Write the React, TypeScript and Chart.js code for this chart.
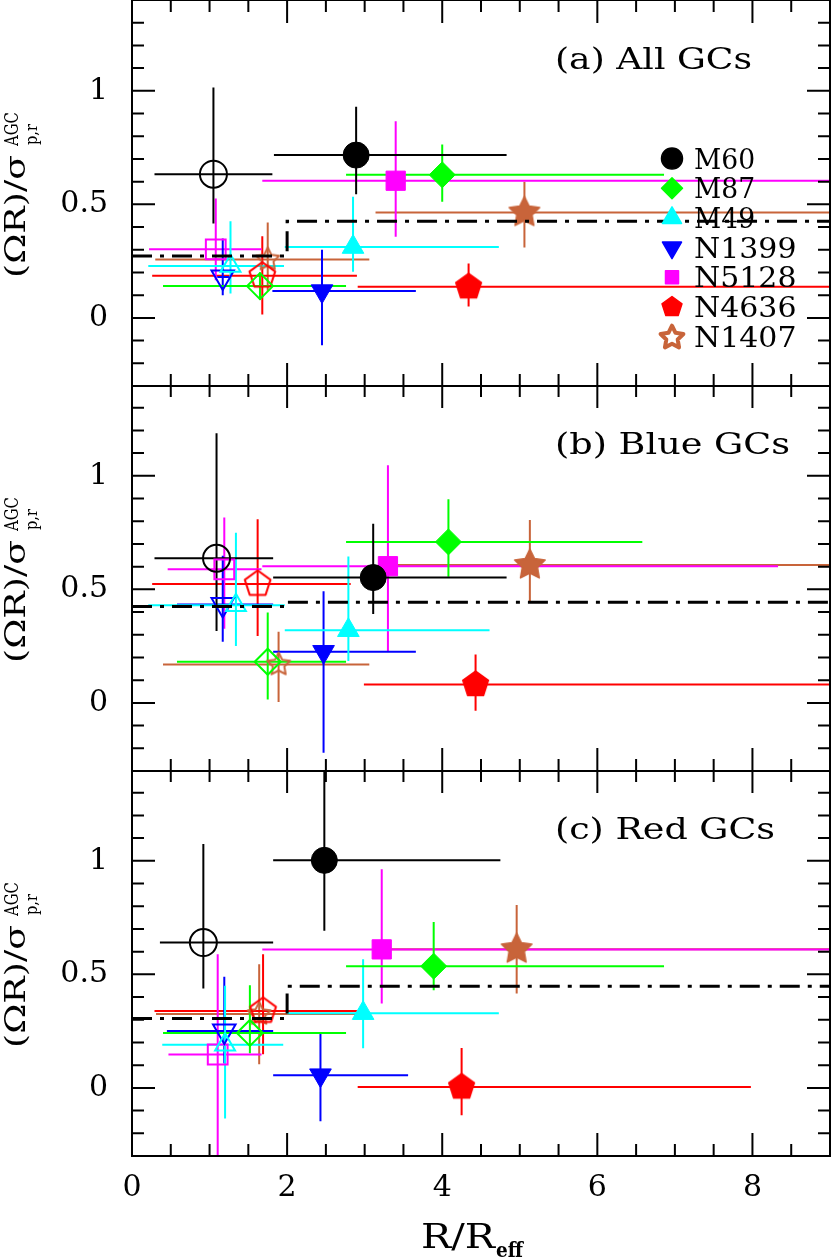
import React, { useEffect, useRef } from 'react';
import { Chart, registerables } from 'chart.js';

Chart.register(...registerables);

// ---------- categories / styles ----------
const galaxies = ['M60', 'M87', 'M49', 'N1399', 'N5128', 'N4636', 'N1407'];
const galaxyColors = ['#000000', '#00ff00', '#00ffff', '#0000ff', '#ff00ff', '#ff0000', '#c8643a'];
const markerKinds = ['circle', 'diamond', 'triangle', 'down', 'square', 'pentagon', 'star'];

const xTickLabels = ['0', '2', '4', '6', '8'];
const yTickLabels = ['0', '0.5', '1'];
const panelLabels = ['(a) All GCs', '(b) Blue GCs', '(c) Red GCs'];

// ---------- (a) All GCs ----------
// inner bin (open symbols)
const aInX = [1.05, 1.65, 1.27, 1.17, 1.08, 1.68, 1.75];
const aInY = [0.633, 0.14, 0.228, 0.18, 0.302, 0.186, 0.257];
const aInXLo = [0.29, 0.40, 0.21, 1.10, 0.22, 0.26, 0.30];
const aInXHi = [1.81, 2.76, 1.96, 1.25, 1.67, 2.90, 3.06];
const aInYLo = [0.416, 0.08, 0.107, 0.10, 0.166, 0.015, 0.12];
const aInYHi = [1.015, 0.20, 0.426, 0.35, 0.526, 0.36, 0.42];
// outer bin (filled symbols)
const aOutX = [2.89, 4.0, 2.85, 2.45, 3.40, 4.34, 5.06];
const aOutY = [0.717, 0.63, 0.312, 0.118, 0.604, 0.137, 0.464];
const aOutXLo = [1.83, 2.76, 1.97, 1.81, 1.68, 2.91, 3.14];
const aOutXHi = [4.83, 6.86, 4.73, 3.66, 9.6, 9.6, 9.6];
const aOutYLo = [0.545, 0.511, 0.203, -0.12, 0.357, 0.05, 0.31];
const aOutYHi = [0.93, 0.764, 0.533, 0.30, 0.866, 0.24, 0.60];
const aStepY = [0.272, 0.426, 0.426];

// ---------- (b) Blue GCs ----------
const bInX = [1.09, 1.75, 1.34, 1.17, 1.19, 1.62, 1.89];
const bInY = [0.637, 0.181, 0.43, 0.433, 0.588, 0.524, 0.169];
const bInXLo = [0.29, 0.58, 0.21, 0.58, 0.46, 0.26, 0.40];
const bInXHi = [1.82, 2.76, 1.97, 1.82, 1.67, 2.82, 3.06];
const bInYLo = [0.317, 0.015, 0.251, 0.269, 0.326, 0.295, 0.004];
const bInYHi = [1.187, 0.398, 0.749, 0.648, 0.817, 0.809, 0.313];
const bOutX = [3.11, 4.08, 2.79, 2.47, 3.30, 4.43, 5.13];
const bOutY = [0.552, 0.709, 0.32, 0.225, 0.602, 0.081, 0.607];
const bOutXLo = [1.82, 2.76, 1.97, 1.82, 1.68, 2.99, 3.2];
const bOutXHi = [4.83, 6.58, 4.61, 3.66, 8.33, 9.6, 9.6];
const bOutYLo = [0.392, 0.555, 0.184, -0.22, 0.225, -0.035, 0.445];
const bOutYHi = [0.789, 0.897, 0.645, 0.492, 1.047, 0.213, 0.805];
const bStepY = [0.425, 0.443, 0.443];

// ---------- (c) Red GCs ----------
const cInX = [0.92, 1.52, 1.20, 1.19, 1.105, 1.69, 1.64];
const cInY = [0.64, 0.242, 0.19, 0.25, 0.147, 0.339, 0.325];
const cInXLo = [0.36, 0.40, 0.39, 0.45, 0.47, 0.29, 0.31];
const cInXHi = [1.82, 2.76, 1.95, 1.82, 1.67, 2.90, 2.88];
const cInYLo = [0.438, 0.152, -0.135, 0.107, -0.35, 0.148, 0.104];
const cInYHi = [1.074, 0.452, 0.45, 0.489, 0.588, 0.588, 0.544];
const cOutX = [2.48, 3.89, 2.98, 2.43, 3.22, 4.25, 4.96];
const cOutY = [1.002, 0.536, 0.329, 0.056, 0.61, 0.004, 0.611];
const cOutXLo = [1.82, 2.76, 2.0, 1.82, 1.68, 2.91, 3.16];
const cOutXHi = [4.75, 6.86, 4.73, 3.56, 9.6, 7.98, 9.6];
const cOutYLo = [0.692, 0.43, 0.174, -0.147, 0.372, -0.12, 0.416];
const cOutYHi = [1.45, 0.731, 0.566, 0.244, 0.963, 0.176, 0.805];
const cStepY = [0.306, 0.448, 0.448];

const stepX = [0, 2, 9];

type Bin = { x: number[]; y: number[]; xlo: number[]; xhi: number[]; ylo: number[]; yhi: number[] };
type PanelSpec = { inner: Bin; outer: Bin; stepY: number[]; label: string; labelWidth: number; legend: boolean; xAxis: boolean };

const panels: PanelSpec[] = [
  {
    inner: { x: aInX, y: aInY, xlo: aInXLo, xhi: aInXHi, ylo: aInYLo, yhi: aInYHi },
    outer: { x: aOutX, y: aOutY, xlo: aOutXLo, xhi: aOutXHi, ylo: aOutYLo, yhi: aOutYHi },
    stepY: aStepY, label: panelLabels[0], labelWidth: 197, legend: true, xAxis: false,
  },
  {
    inner: { x: bInX, y: bInY, xlo: bInXLo, xhi: bInXHi, ylo: bInYLo, yhi: bInYHi },
    outer: { x: bOutX, y: bOutY, xlo: bOutXLo, xhi: bOutXHi, ylo: bOutYLo, yhi: bOutYHi },
    stepY: bStepY, label: panelLabels[1], labelWidth: 235, legend: false, xAxis: false,
  },
  {
    inner: { x: cInX, y: cInY, xlo: cInXLo, xhi: cInXHi, ylo: cInYLo, yhi: cInYHi },
    outer: { x: cOutX, y: cOutY, xlo: cOutXLo, xhi: cOutXHi, ylo: cOutYLo, yhi: cOutYHi },
    stepY: cStepY, label: panelLabels[2], labelWidth: 220, legend: false, xAxis: true,
  },
];

const SERIF = '"DejaVu Serif", "Liberation Serif", serif';

// ---------- marker helpers ----------
function shapePath(ctx: CanvasRenderingContext2D, kind: string, x: number, y: number, r: number) {
  ctx.beginPath();
  if (kind === 'circle') {
    ctx.arc(x, y, r, 0, Math.PI * 2);
  } else if (kind === 'diamond') {
    ctx.moveTo(x, y - r); ctx.lineTo(x + r, y); ctx.lineTo(x, y + r); ctx.lineTo(x - r, y); ctx.closePath();
  } else if (kind === 'triangle' || kind === 'down') {
    const s = kind === 'down' ? -1 : 1;
    const w = r * Math.sqrt(3) / 2;
    ctx.moveTo(x, y - s * r); ctx.lineTo(x + w, y + s * r / 2); ctx.lineTo(x - w, y + s * r / 2); ctx.closePath();
  } else if (kind === 'square') {
    ctx.rect(x - r, y - r, 2 * r, 2 * r);
  } else if (kind === 'pentagon') {
    for (let k = 0; k < 5; k++) {
      const a = -Math.PI / 2 + (k * 2 * Math.PI) / 5;
      const px = x + r * Math.cos(a), py = y + r * Math.sin(a);
      if (k === 0) ctx.moveTo(px, py); else ctx.lineTo(px, py);
    }
    ctx.closePath();
  } else if (kind === 'star') {
    for (let k = 0; k < 10; k++) {
      const a = -Math.PI / 2 + (k * Math.PI) / 5;
      const rr = k % 2 === 0 ? r : r * 0.5;
      const px = x + rr * Math.cos(a), py = y + rr * Math.sin(a);
      if (k === 0) ctx.moveTo(px, py); else ctx.lineTo(px, py);
    }
    ctx.closePath();
  }
}

function drawMarker(ctx: CanvasRenderingContext2D, kind: string, x: number, y: number, r: number, color: string, filled: boolean, lw: number) {
  ctx.save();
  shapePath(ctx, kind, x, y, r);
  ctx.lineJoin = 'round';
  if (filled) {
    ctx.fillStyle = color; ctx.fill();
    ctx.strokeStyle = color; ctx.lineWidth = 1.5; ctx.stroke();
  } else {
    ctx.strokeStyle = color; ctx.lineWidth = lw; ctx.stroke();
  }
  ctx.restore();
}

function markerImage(kind: string, r: number, color: string, filled: boolean, lw: number): HTMLCanvasElement {
  const size = Math.ceil(2 * r + 2 * lw + 4);
  const c = document.createElement('canvas');
  c.width = size; c.height = size;
  const ctx = c.getContext('2d')!;
  drawMarker(ctx, kind, size / 2, size / 2, r, color, filled, lw);
  return c;
}

function pointOpts(i: number, filled: boolean) {
  const kind = markerKinds[i];
  const color = galaxyColors[i];
  const base: any = {
    pointBorderColor: color,
    pointBackgroundColor: filled ? color : 'rgba(0,0,0,0)',
    pointBorderWidth: filled ? 1 : 2,
    pointRotation: 0,
  };
  if (kind === 'circle') return { ...base, pointStyle: 'circle', pointRadius: filled ? 13 : 13.5 };
  if (kind === 'diamond') return { ...base, pointStyle: 'rectRot', pointRadius: 13 };
  if (kind === 'triangle') return { ...base, pointStyle: 'triangle', pointRadius: filled ? 12.5 : 11.5 };
  if (kind === 'down') return { ...base, pointStyle: 'triangle', pointRotation: 180, pointRadius: filled ? 12.5 : 13 };
  if (kind === 'square') return { ...base, pointStyle: 'rect', pointRadius: filled ? 13.6 : 14 };
  if (kind === 'pentagon') return { ...base, pointStyle: markerImage('pentagon', 13.5, color, filled, 2), pointRadius: 13 };
  return { ...base, pointStyle: filled ? markerImage('star', 16, color, true, 2) : markerImage('star', 12, color, false, 2), pointRadius: 13 };
}

function fillTextW(ctx: CanvasRenderingContext2D, text: string, x: number, y: number, font: string, width?: number) {
  ctx.save();
  ctx.font = font;
  ctx.textAlign = 'left';
  ctx.textBaseline = 'alphabetic';
  const m = ctx.measureText(text).width;
  ctx.translate(x, y);
  if (width) ctx.scale(width / m, 1);
  ctx.fillStyle = '#000';
  ctx.fillText(text, 0, 0);
  ctx.restore();
}

function zeroPad(s: any) {
  s.paddingTop = 0;
  s.paddingBottom = 0;
  s.paddingLeft = 0;
  s.paddingRight = 0;
}

function buildConfig(spec: PanelSpec): any {
  const datasets: any[] = [];
  datasets.push({
    type: 'line',
    label: 'mean',
    data: stepX.map((x, k) => ({ x, y: spec.stepY[k] })),
    stepped: 'before',
    showLine: true,
    borderColor: '#000',
    borderWidth: 3,
    borderDash: [20, 8, 4, 8],
    pointRadius: 0,
    fill: false,
    order: 0,
  });
  for (let i = 0; i < galaxies.length; i++) {
    datasets.push({
      label: galaxies[i] + ' outer',
      data: [{ x: spec.outer.x[i], y: spec.outer.y[i] }],
      order: 1,
      ...pointOpts(i, true),
    });
    datasets.push({
      label: galaxies[i] + ' inner',
      data: [{ x: spec.inner.x[i], y: spec.inner.y[i] }],
      order: 1,
      ...pointOpts(i, false),
    });
  }

  const decor = {
    id: 'decor',
    beforeDatasetsDraw(chart: any) {
      const ctx = chart.ctx as CanvasRenderingContext2D;
      const xs = chart.scales.x, ys = chart.scales.y;
      const a = chart.chartArea;
      ctx.save();
      ctx.beginPath();
      ctx.rect(a.left, a.top, a.right - a.left, a.bottom - a.top);
      ctx.clip();
      ctx.lineWidth = 2;
      ctx.lineCap = 'butt';
      for (let i = galaxies.length - 1; i >= 0; i--) {
        for (const bin of [spec.outer, spec.inner]) {
          ctx.strokeStyle = galaxyColors[i];
          const px = xs.getPixelForValue(bin.x[i]);
          const py = ys.getPixelForValue(bin.y[i]);
          ctx.beginPath();
          ctx.moveTo(xs.getPixelForValue(bin.xlo[i]), py);
          ctx.lineTo(xs.getPixelForValue(bin.xhi[i]), py);
          ctx.moveTo(px, ys.getPixelForValue(bin.ylo[i]));
          ctx.lineTo(px, ys.getPixelForValue(bin.yhi[i]));
          ctx.stroke();
        }
      }
      ctx.restore();
    },
    afterDraw(chart: any) {
      const ctx = chart.ctx as CanvasRenderingContext2D;
      const xs = chart.scales.x, ys = chart.scales.y;
      const a = chart.chartArea;
      ctx.save();
      ctx.strokeStyle = '#000';
      ctx.lineWidth = 2;
      ctx.strokeRect(a.left, a.top, a.right - a.left, a.bottom - a.top);
      ctx.beginPath();
      for (const t of ys.ticks) {
        const v = t.value;
        const p = ys.getPixelForValue(v);
        if (p <= a.top + 1 || p >= a.bottom - 1) continue;
        const major = Math.abs(v * 2 - Math.round(v * 2)) < 1e-6;
        const len = major ? 23 : 12;
        ctx.moveTo(a.left, p); ctx.lineTo(a.left + len, p);
        ctx.moveTo(a.right, p); ctx.lineTo(a.right - len, p);
      }
      for (const t of xs.ticks) {
        const v = t.value;
        const p = xs.getPixelForValue(v);
        if (p <= a.left + 1 || p >= a.right - 1) continue;
        const major = Math.abs(v / 2 - Math.round(v / 2)) < 1e-6;
        const len = major ? 23 : 12;
        ctx.moveTo(p, a.top); ctx.lineTo(p, a.top + len);
        ctx.moveTo(p, a.bottom); ctx.lineTo(p, a.bottom - len);
      }
      ctx.stroke();
      ctx.restore();

      // panel label
      fillTextW(ctx, spec.label, 555, a.top + 69, `29px ${SERIF}`, spec.labelWidth);

      // y-axis title (rotated)
      ctx.save();
      ctx.translate(0, a.top);
      ctx.rotate(-Math.PI / 2);
      fillTextW(ctx, '(ΩR)/σ', -278, 25, `28px ${SERIF}`, 123);
      fillTextW(ctx, 'AGC', -146, 18, `18px ${SERIF}`, 34);
      fillTextW(ctx, 'p,r', -145, 37, `17px ${SERIF}`, 21);
      ctx.restore();

      // legend
      if (spec.legend) {
        for (let i = 0; i < galaxies.length; i++) {
          const base = 168.5 + 29.7 * i;
          const kind = markerKinds[i];
          const cy = base - 10;
          if (kind === 'star') {
            drawMarker(ctx, 'star', 672, cy + 1, 12, galaxyColors[i], false, 4);
          } else {
            const r = kind === 'square' ? 6.5 : kind === 'triangle' ? 11 : kind === 'down' ? 11 : 10.5;
            drawMarker(ctx, kind, 672, cy, r, galaxyColors[i], true, 2);
          }
          const w = galaxies[i].length * 20.7 - 1;
          fillTextW(ctx, galaxies[i], 694, base, `28px ${SERIF}`, w);
        }
      }

      // x-axis title
      if (spec.xAxis) {
        fillTextW(ctx, 'R/R', 421, a.bottom + 92, `33px ${SERIF}`, 74);
        fillTextW(ctx, 'eff', 496, a.bottom + 101, `bold 20px ${SERIF}`, 27);
      }
    },
  };

  return {
    type: 'scatter',
    data: { datasets },
    plugins: [decor],
    options: {
      responsive: false,
      animation: false,
      events: [],
      layout: { autoPadding: false, padding: { top: 0, left: 0, right: 1, bottom: spec.xAxis ? 0 : 1 } },
      plugins: { legend: { display: false }, tooltip: { enabled: false } },
      scales: {
        x: {
          type: 'linear',
          min: 0,
          max: 9,
          grid: { display: false, drawTicks: false },
          border: { display: false },
          ticks: {
            stepSize: 0.5,
            autoSkip: false,
            maxRotation: 0,
            display: spec.xAxis,
            padding: 14,
            color: '#000',
            font: { family: SERIF, size: 30 },
            callback: (v: number) => {
              const s = String(Math.round(v * 10) / 10);
              return xTickLabels.includes(s) ? s : '';
            },
          },
          afterFit: (s: any) => { s.height = spec.xAxis ? 103 : 0; zeroPad(s); },
        },
        y: {
          type: 'linear',
          min: -0.3,
          max: 1.4,
          grid: { display: false, drawTicks: false },
          border: { display: false },
          ticks: {
            stepSize: 0.1,
            autoSkip: false,
            padding: 24,
            color: '#000',
            font: { family: SERIF, size: 30 },
            callback: (v: number) => {
              const s = String(Math.round(v * 10) / 10);
              return yTickLabels.includes(s) ? s : '';
            },
          },
          afterFit: (s: any) => { s.width = 132; zeroPad(s); },
        },
      },
    },
  };
}

function Panel({ spec, top, height }: { spec: PanelSpec; top: number; height: number }) {
  const ref = useRef<HTMLCanvasElement>(null);
  useEffect(() => {
    const chart = new Chart(ref.current!, buildConfig(spec));
    return () => chart.destroy();
  }, [spec]);
  return (
    <canvas
      ref={ref}
      width={831}
      height={height}
      style={{ position: 'absolute', left: 0, top, width: 831, height }}
    />
  );
}

export default function App() {
  return (
    <div style={{ position: 'absolute', left: 0, top: 0, width: 831, height: 1259, background: '#fff', overflow: 'hidden' }}>
      <Panel spec={panels[0]} top={0} height={387} />
      <Panel spec={panels[1]} top={385} height={387} />
      <Panel spec={panels[2]} top={770} height={489} />
    </div>
  );
}
